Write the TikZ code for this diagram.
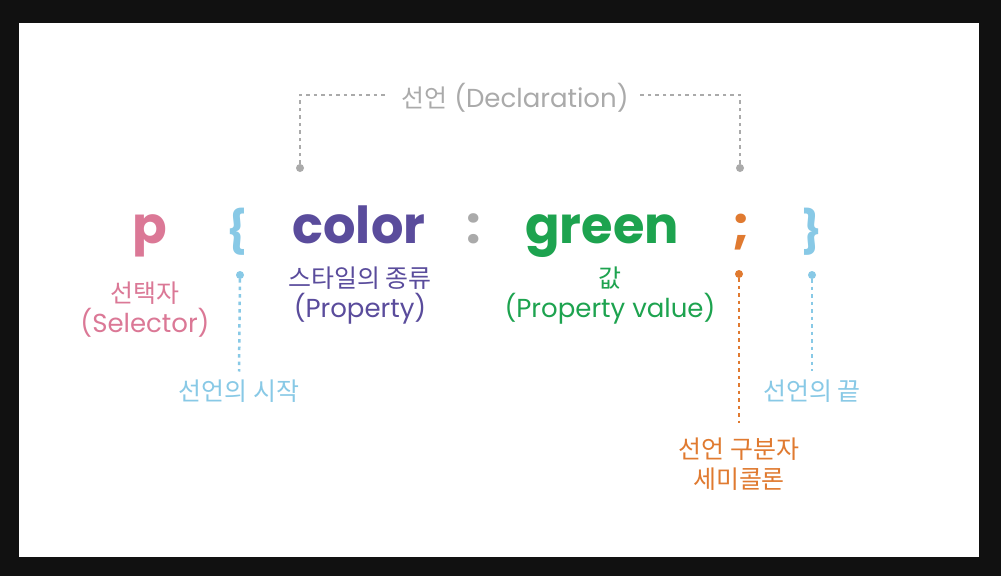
\documentclass[tikz,border=0pt]{standalone}
\usepackage{fontspec}
\setmainfont{Poppins}
\newfontfamily\kr[Scale=0.96]{Noto Sans CJK KR}
\usetikzlibrary{positioning,calc}

\definecolor{framebg}{HTML}{111111}
\definecolor{selpink}{HTML}{DB7896}
\definecolor{brblue}{HTML}{88C9E6}
\definecolor{propurple}{HTML}{5A4C9C}
\definecolor{valgreen}{HTML}{1DA34F}
\definecolor{semiorange}{HTML}{E07A30}
\definecolor{declgray}{HTML}{AAAAAA}

\begin{document}
\begin{tikzpicture}[
    x=1pt, y=-1pt,
    code/.style={font=\fontsize{51}{51}\selectfont\bfseries, inner sep=0pt, anchor=base},
    brace/.style={font=\fontsize{42}{42}\selectfont\bfseries, inner sep=0pt, anchor=base, text=brblue},
    lbl/.style={font=\fontsize{26}{30}\selectfont, align=center, inner sep=0pt},
    pin/.style={circle, fill=#1, inner sep=0pt, minimum size=8pt},
    guide/.style={draw=#1, line width=2.5pt, dash pattern=on 3.5pt off 4pt}
]

% frame
\fill[framebg] (0,0) rectangle (1001,576);
\fill[white] (19,23) rectangle (979,557);

% CSS rule
\node[code, text=selpink] (sel) at (150,243) {p};
\node[brace] (open) at (237,246) {\{};
\node[code, text=propurple] (prop) at (359,243) {color};
\node[code, text=declgray] (colon) at (474,243) {:};
\node[code, text=valgreen] (val) at (602,243) {green};
\node[code, text=semiorange] (semi) at (741,243) {;};
\node[brace] (close) at (812,246) {\}};

% labels under the rule
\node[lbl, text=selpink] (sellbl) at (145,310) {\kr 선택자\\(Selector)};
\node[lbl, text=propurple] (proplbl) at (360,296) {\kr 스타일의 종류\\(Property)};
\node[lbl, text=valgreen] (vallbl) at (610,296) {\kr 값\\(Property value)};

% declaration start
\node[pin=brblue] (openpin) at (240,275) {};
\node[lbl, text=brblue] (openlbl) at (239,391) {\kr 선언의 시작};
\draw[guide=brblue] (openpin) -- ([yshift=8pt]openlbl.north);

% separator
\node[pin=semiorange] (semipin) at (739,274) {};
\node[lbl, text=semiorange] (semilbl) at (739,464) {\kr 선언 구분자\\\kr 세미콜론};
\draw[guide=semiorange] (semipin) -- ([yshift=15pt]semilbl.north);

% declaration end
\node[pin=brblue] (closepin) at (812,275) {};
\node[lbl, text=brblue] (closelbl) at (812,391) {\kr 선언의 끝};
\draw[guide=brblue] (closepin) -- ([yshift=8pt]closelbl.north);

% declaration bracket
\node[lbl, text=declgray] (decl) at (515,98) {{\kr 선언} (Declaration)};
\node[pin=declgray] (declL) at (300,168) {};
\node[pin=declgray] (declR) at (740,168) {};
\coordinate (cornerL) at (300,95);
\coordinate (cornerR) at (740,95);
\draw[guide=declgray] (declL) -- (cornerL) -- ([xshift=-13pt]cornerL -| decl.west);
\draw[guide=declgray] (declR) -- (cornerR) -- ([xshift=11pt]cornerR -| decl.east);

\end{tikzpicture}
\end{document}
